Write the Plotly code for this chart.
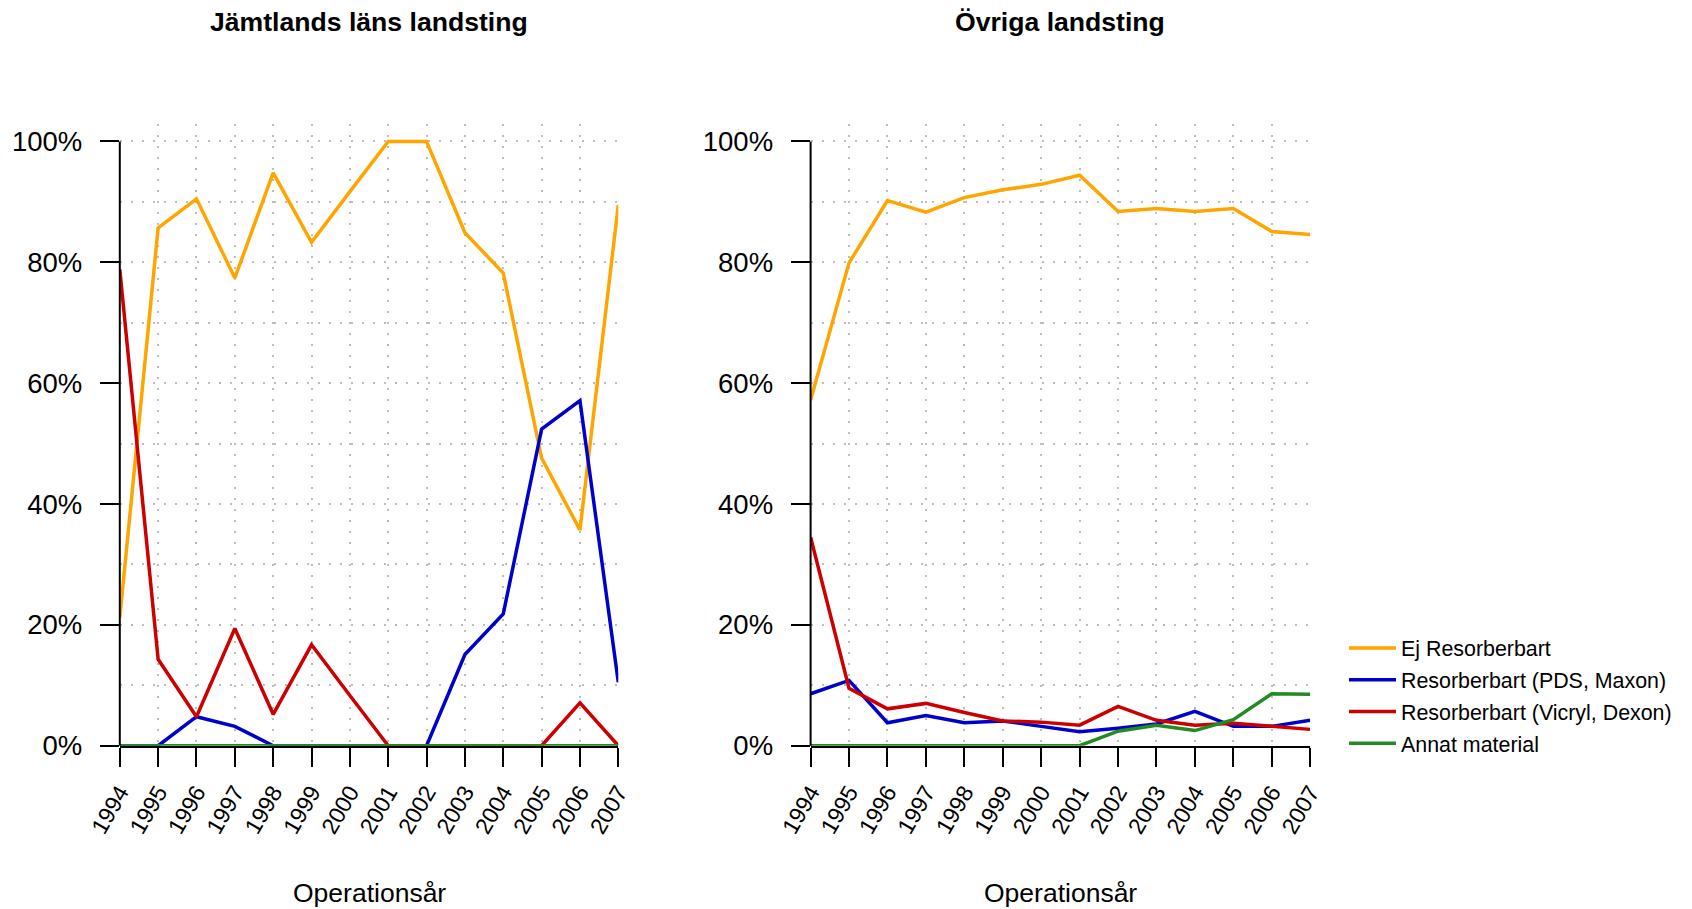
import plotly.graph_objects as go

# ── data (share of operations, 0-1) ─────────────────────────────────────────
years = list(range(1994, 2008))

series_names = [
    "Ej Resorberbart",
    "Resorberbart (PDS, Maxon)",
    "Resorberbart (Vicryl, Dexon)",
    "Annat material",
]

# Jämtlands läns landsting
jamt_ej      = [0.212, 0.857, 0.905, 0.774, 0.948, 0.833, 0.917, 1.0, 1.0, 0.849, 0.782, 0.476, 0.357, 0.895]
jamt_pds     = [0.0, 0.0, 0.048, 0.032, 0.0, 0.0, 0.0, 0.0, 0.0, 0.151, 0.218, 0.524, 0.571, 0.105]
jamt_vicryl  = [0.788, 0.143, 0.048, 0.194, 0.052, 0.167, 0.083, 0.0, 0.0, 0.0, 0.0, 0.0, 0.071, 0.0]
jamt_annat   = [0.0] * 14

# Övriga landsting
ovr_ej       = [0.572, 0.799, 0.902, 0.883, 0.907, 0.920, 0.929, 0.944, 0.884, 0.889, 0.884, 0.889, 0.851, 0.846]
ovr_pds      = [0.086, 0.108, 0.038, 0.050, 0.038, 0.041, 0.032, 0.023, 0.029, 0.036, 0.057, 0.032, 0.032, 0.042]
ovr_vicryl   = [0.345, 0.095, 0.061, 0.070, 0.055, 0.041, 0.039, 0.034, 0.065, 0.042, 0.034, 0.037, 0.032, 0.027]
ovr_annat    = [0.0, 0.0, 0.0, 0.0, 0.0, 0.0, 0.0, 0.0, 0.024, 0.034, 0.025, 0.043, 0.086, 0.085]

panel_titles = ["Jämtlands läns landsting", "Övriga landsting"]
x_title = "Operationsår"
y_ticks = [0, 0.2, 0.4, 0.6, 0.8, 1.0]
y_ticklabels = ["0%", "20%", "40%", "60%", "80%", "100%"]

# ── styling ─────────────────────────────────────────────────────────────────
COLORS = ["#FFA500", "#0000CD", "#CD0000", "#228B22"]
FONT = "Liberation Sans, Arial, sans-serif"
GRID = "#BDBDBD"
GRID_DASH = "2px,9px"
W, H = 1692, 909

X_DOMAINS = [(119.8 / W, 618.3 / W), (810.6 / W, 1310.2 / W)]
Y_DOMAIN = (1 - 745.7 / H, 1 - 123.9 / H)
Y_TOP = 1.029

fig = go.Figure()

panels = [
    [jamt_ej, jamt_pds, jamt_vicryl, jamt_annat],
    [ovr_ej, ovr_pds, ovr_vicryl, ovr_annat],
]

for p, data in enumerate(panels):
    xa = "x" if p == 0 else "x2"
    ya = "y" if p == 0 else "y2"
    for name, vals, col in zip(series_names, data, COLORS):
        fig.add_trace(go.Scatter(
            x=years, y=vals, mode="lines", name=name,
            line=dict(color=col, width=3.5),
            xaxis=xa, yaxis=ya,
            legendgroup=name, showlegend=(p == 1),
            cliponaxis=False,
        ))

axis_common = dict(
    showgrid=True, gridcolor=GRID, griddash=GRID_DASH, gridwidth=1.5,
    zeroline=False, ticks="outside", ticklen=19, tickwidth=2, tickcolor="black",
    automargin=False, layer="above traces",
)

for p in range(2):
    sfx = "" if p == 0 else str(p + 1)
    fig.update_layout(**{
        f"xaxis{sfx}": dict(
            axis_common,
            domain=list(X_DOMAINS[p]), anchor=f"y{sfx}",
            range=[1994, 2007], tickvals=years, ticktext=[str(y) for y in years],
            tickangle=-60, tickfont=dict(size=23, color="black", family=FONT),
            ticklabelstandoff=3,
            showline=True, linecolor="black", linewidth=2,
        ),
        f"yaxis{sfx}": dict(
            axis_common,
            domain=list(Y_DOMAIN), anchor=f"x{sfx}",
            range=[0, Y_TOP], tickvals=y_ticks, ticktext=y_ticklabels,
            tickfont=dict(size=27.5, color="black", family=FONT),
            ticklabelstandoff=12,
            showline=False,
            minor=dict(dtick=0.1, tick0=0, showgrid=True, gridcolor=GRID,
                       griddash=GRID_DASH, gridwidth=1.5, ticks=""),
        ),
    })
    # left axis spine only spans 0-100 %, as in base R axis()
    y_lo = Y_DOMAIN[0]
    y_hi = Y_DOMAIN[0] + (Y_DOMAIN[1] - Y_DOMAIN[0]) / Y_TOP
    fig.add_shape(type="line", xref="paper", yref="paper",
                  x0=X_DOMAINS[p][0], x1=X_DOMAINS[p][0], y0=y_lo, y1=y_hi,
                  line=dict(color="black", width=2), layer="above")
    cx = (X_DOMAINS[p][0] + X_DOMAINS[p][1]) / 2
    fig.add_annotation(text=f"<b>{panel_titles[p]}</b>", xref="paper", yref="paper",
                       x=cx, y=1 - 21.6 / H, xanchor="center", yanchor="middle",
                       showarrow=False, font=dict(size=26.6, color="black", family=FONT))
    fig.add_annotation(text=x_title, xref="paper", yref="paper",
                       x=cx, y=1 - 893 / H, xanchor="center", yanchor="middle",
                       showarrow=False, font=dict(size=26.5, color="black", family=FONT))

fig.update_layout(
    width=W, height=H,
    margin=dict(l=0, r=0, t=0, b=0),
    paper_bgcolor="white", plot_bgcolor="white",
    font=dict(family=FONT, color="black"),
    legend=dict(
        x=1344 / W, xanchor="left", y=1 - 696 / H, yanchor="middle",
        font=dict(size=21.4, color="black", family=FONT),
        bgcolor="rgba(0,0,0,0)", tracegroupgap=1, itemwidth=47,
    ),
)

fig.write_html("out.html", config={"displayModeBar": False},
               post_script="document.body.style.margin='0';")
